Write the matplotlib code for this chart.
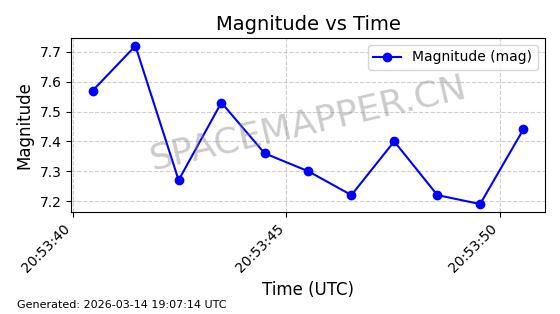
import pandas as pd
import matplotlib
matplotlib.use('Agg')
import matplotlib.pyplot as plt
import matplotlib.dates as mdates

times = ['20:53:40.47', '20:53:41.47', '20:53:42.48', '20:53:43.48', '20:53:44.49',
         '20:53:45.51', '20:53:46.52', '20:53:47.52', '20:53:48.53', '20:53:49.53',
         '20:53:50.54']
mags = [7.57, 7.72, 7.27, 7.53, 7.36, 7.30, 7.22, 7.40, 7.22, 7.19, 7.44]

t = pd.to_datetime(['2026-03-14 ' + s for s in times])

fig, ax = plt.subplots(figsize=(5.6, 3.14), dpi=100)
ax.plot(t, mags, '-o', color='blue', label='Magnitude (mag)')
ax.set_title('Magnitude vs Time', fontsize=14)
ax.set_xlabel('Time (UTC)', fontsize=12)
ax.set_ylabel('Magnitude', fontsize=12)
ax.grid(True, linestyle='--', alpha=0.6)
ax.legend(loc='upper right')
ax.xaxis.set_major_locator(mdates.SecondLocator(bysecond=[40, 45, 50]))
ax.xaxis.set_major_formatter(mdates.DateFormatter('%H:%M:%S'))
plt.setp(ax.get_xticklabels(), rotation=45, ha='right')

ax.text(0.5, 0.51, 'SPACEMAPPER.CN', transform=ax.transAxes, fontsize=26,
        color='gray', alpha=0.4, rotation=13, ha='center', va='center')

fig.subplots_adjust(left=0.127, right=0.973, top=0.879, bottom=0.325)
fig.text(0.03, 0.02, 'Generated: 2026-03-14 19:07:14 UTC', fontsize=8)
fig.savefig('out.png', dpi=100)
